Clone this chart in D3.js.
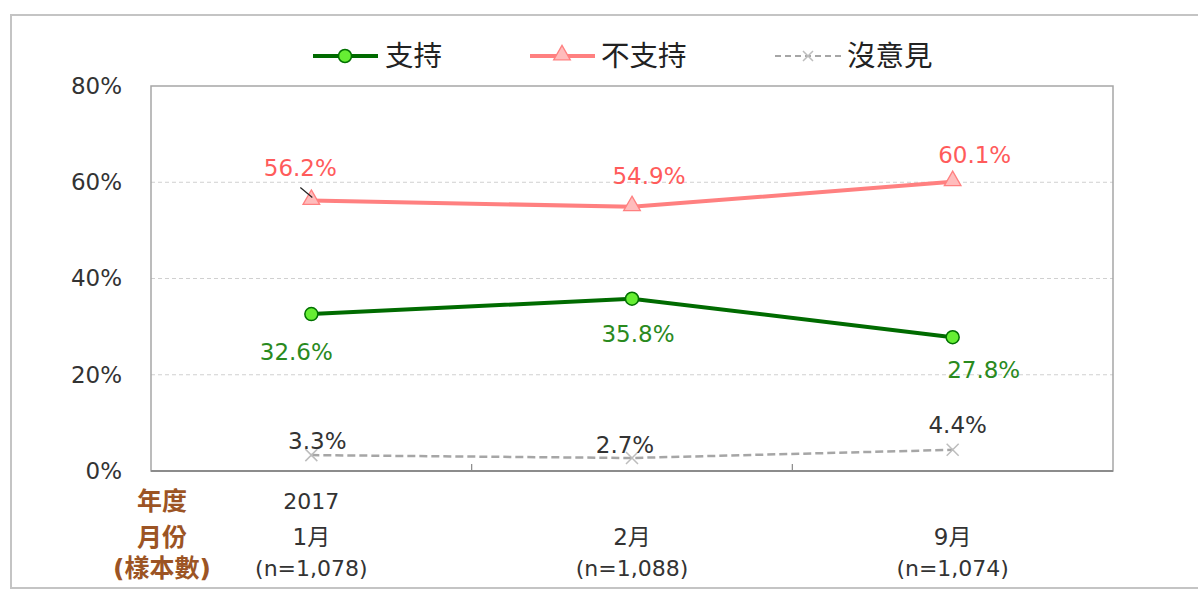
<!DOCTYPE html>
<html><head><meta charset="utf-8">
<script src="https://cdn.jsdelivr.net/npm/d3@7"></script>
<style>
html,body{margin:0;padding:0;background:#fff;}
svg{display:block;}
text{font-family:"DejaVu Sans","Noto Sans CJK TC",sans-serif;}
</style></head>
<body>
<svg id="c" width="1198" height="590"></svg>
<script>
const categories = ["1月", "2月", "9月"];
const yearLabels = ["2017", "", ""];
const sampleLabels = ["(n=1,078)", "(n=1,088)", "(n=1,074)"];
const rowLabels = ["年度", "月份", "(樣本數)"];
const seriesNames = ["支持", "不支持", "沒意見"];
const support = [32.6, 35.8, 27.8];
const oppose = [56.2, 54.9, 60.1];
const noOpinion = [3.3, 2.7, 4.4];
const yTicks = [0, 20, 40, 60, 80];

const svg = d3.select("#c");
const W = 1198, H = 590;
const cjk = '"Noto Sans CJK TC","Microsoft JhengHei",sans-serif';
const num = '"DejaVu Sans","Noto Sans CJK TC",sans-serif';

// outer frame
svg.append("rect").attr("x", 11).attr("y", 15).attr("width", W + 10).attr("height", 573)
  .attr("fill", "#fff").attr("stroke", "#c4c4c4").attr("stroke-width", 2);

const m = {left: 151, right: 1113, top: 86, bottom: 471};
const x = d3.scaleBand().domain(categories).range([m.left, m.right]);
const y = d3.scaleLinear().domain([0, 80]).range([m.bottom, m.top]);
const cx = d => x(d) + x.bandwidth() / 2;

// gridlines
svg.append("g").selectAll("line").data(yTicks.filter(t => t > 0 && t < 80)).join("line")
  .attr("x1", m.left).attr("x2", m.right)
  .attr("y1", d => y(d)).attr("y2", d => y(d))
  .attr("stroke", "#d0d0d0").attr("stroke-dasharray", "4,3").attr("stroke-width", 1);

// plot border
svg.append("rect").attr("x", m.left).attr("y", m.top)
  .attr("width", m.right - m.left).attr("height", m.bottom - m.top)
  .attr("fill", "none").attr("stroke", "#a6a6a6").attr("stroke-width", 1.5);

// y axis labels
const yAxis = d3.axisLeft(y).tickValues(yTicks).tickFormat(d => d + "%").tickSize(0).tickPadding(29);
const ya = svg.append("g").attr("transform", `translate(${m.left},0)`).call(yAxis);
ya.select(".domain").remove();
ya.selectAll("text").attr("font-size", 23).attr("fill", "#333").attr("font-family", num);

// x axis inner ticks at band boundaries
const bounds = categories.slice(1).map(c => x(c));
svg.append("g").selectAll("line").data(bounds).join("line")
  .attr("x1", d => d).attr("x2", d => d)
  .attr("y1", m.bottom).attr("y2", m.bottom - 7)
  .attr("stroke", "#888").attr("stroke-width", 1.2);
svg.append("line").attr("x1", m.left).attr("x2", m.right).attr("y1", m.bottom).attr("y2", m.bottom)
  .attr("stroke", "#8c8c8c").attr("stroke-width", 2);

// x category labels
const rows = [yearLabels, categories, sampleLabels];
const rowY = [501, 537, 568];
rows.forEach((r, i) => {
  svg.append("g").selectAll("text").data(categories).join("text")
    .attr("x", d => cx(d)).attr("y", rowY[i]).attr("dy", "0.35em")
    .attr("text-anchor", "middle").attr("font-size", i === 1 ? 23 : 22).attr("fill", "#333")
    .attr("font-family", num)
    .text((d, j) => r[j]);
});
svg.append("g").selectAll("text").data(rowLabels).join("text")
  .attr("x", 162).attr("y", (d, i) => rowY[i]).attr("dy", "0.35em")
  .attr("text-anchor", "middle").attr("font-size", 25).attr("font-weight", "bold")
  .attr("fill", "#9c5424").attr("font-family", cjk).text(d => d);

const line = d3.line().x((d, i) => cx(categories[i])).y(d => y(d));

// no opinion
svg.append("path").datum(noOpinion).attr("d", line).attr("fill", "none")
  .attr("stroke", "#a6a6a6").attr("stroke-width", 2.5).attr("stroke-dasharray", "8,4");
const xMark = (g, px, py, s) => {
  g.append("path").attr("d", `M${px - s},${py - s}L${px + s},${py + s}M${px - s},${py + s}L${px + s},${py - s}`)
    .attr("stroke", "#bdbdbd").attr("stroke-width", 1.5);
};
const gN = svg.append("g");
noOpinion.forEach((v, i) => xMark(gN, cx(categories[i]), y(v), 6));

// oppose
svg.append("path").datum(oppose).attr("d", line).attr("fill", "none")
  .attr("stroke", "#ff8080").attr("stroke-width", 4);
const tri = d3.symbol().type(d3.symbolTriangle).size(120);
svg.append("g").selectAll("path").data(oppose).join("path")
  .attr("transform", (d, i) => `translate(${cx(categories[i])},${y(d) - 1})`)
  .attr("d", tri).attr("fill", "#ffbcbc").attr("stroke", "#ff8080").attr("stroke-width", 1.3);

// support
svg.append("path").datum(support).attr("d", line).attr("fill", "none")
  .attr("stroke", "#006b00").attr("stroke-width", 4);
svg.append("g").selectAll("circle").data(support).join("circle")
  .attr("cx", (d, i) => cx(categories[i])).attr("cy", d => y(d)).attr("r", 6.5)
  .attr("fill", "#66ee33").attr("stroke", "#007000").attr("stroke-width", 1.5);

// data labels
const lab = (vals, offs, color) => {
  svg.append("g").selectAll("text").data(vals).join("text")
    .attr("x", (d, i) => cx(categories[i]) + offs[i][0])
    .attr("y", (d, i) => y(d) + offs[i][1]).attr("dy", "0.35em")
    .attr("text-anchor", "middle").attr("font-size", 23).attr("fill", color)
    .attr("font-family", num).text(d => d.toFixed(1) + "%");
};
lab(oppose, [[-11, -33], [17, -31], [22, -27]], "#ff5b5b");
lab(support, [[-15, 38], [6, 35], [31, 33]], "#2a8a1e");
lab(noOpinion, [[6, -14], [-7, -13], [5, -25]], "#333");

// leader line for 56.2%
svg.append("line").attr("x1", cx(categories[0]) - 11).attr("y1", y(oppose[0]) - 13)
  .attr("x2", cx(categories[0]) + 1).attr("y2", y(oppose[0]) - 3)
  .attr("stroke", "#222").attr("stroke-width", 1.2);

// legend
const lg = svg.append("g");
const ly = 56;
lg.append("line").attr("x1", 313).attr("x2", 378).attr("y1", ly).attr("y2", ly).attr("stroke", "#006b00").attr("stroke-width", 4);
lg.append("circle").attr("cx", 345).attr("cy", ly).attr("r", 6.5).attr("fill", "#66ee33").attr("stroke", "#007000").attr("stroke-width", 1.5);
lg.append("line").attr("x1", 530).attr("x2", 595).attr("y1", ly).attr("y2", ly).attr("stroke", "#ff8080").attr("stroke-width", 4);
lg.append("path").attr("transform", `translate(562,${ly - 1})`).attr("d", tri).attr("fill", "#ffbcbc").attr("stroke", "#ff8080").attr("stroke-width", 1.3);
lg.append("line").attr("x1", 775).attr("x2", 842).attr("y1", ly).attr("y2", ly).attr("stroke", "#a6a6a6").attr("stroke-width", 2).attr("stroke-dasharray", "6,4");
xMark(lg, 808, ly, 5);
const legX = [385, 601, 847];
lg.selectAll("text").data(seriesNames).join("text")
  .attr("x", (d, i) => legX[i]).attr("y", ly).attr("dy", "0.36em")
  .attr("font-size", 28.5).attr("fill", "#222").attr("font-family", cjk).text(d => d);
</script>
</body></html>
